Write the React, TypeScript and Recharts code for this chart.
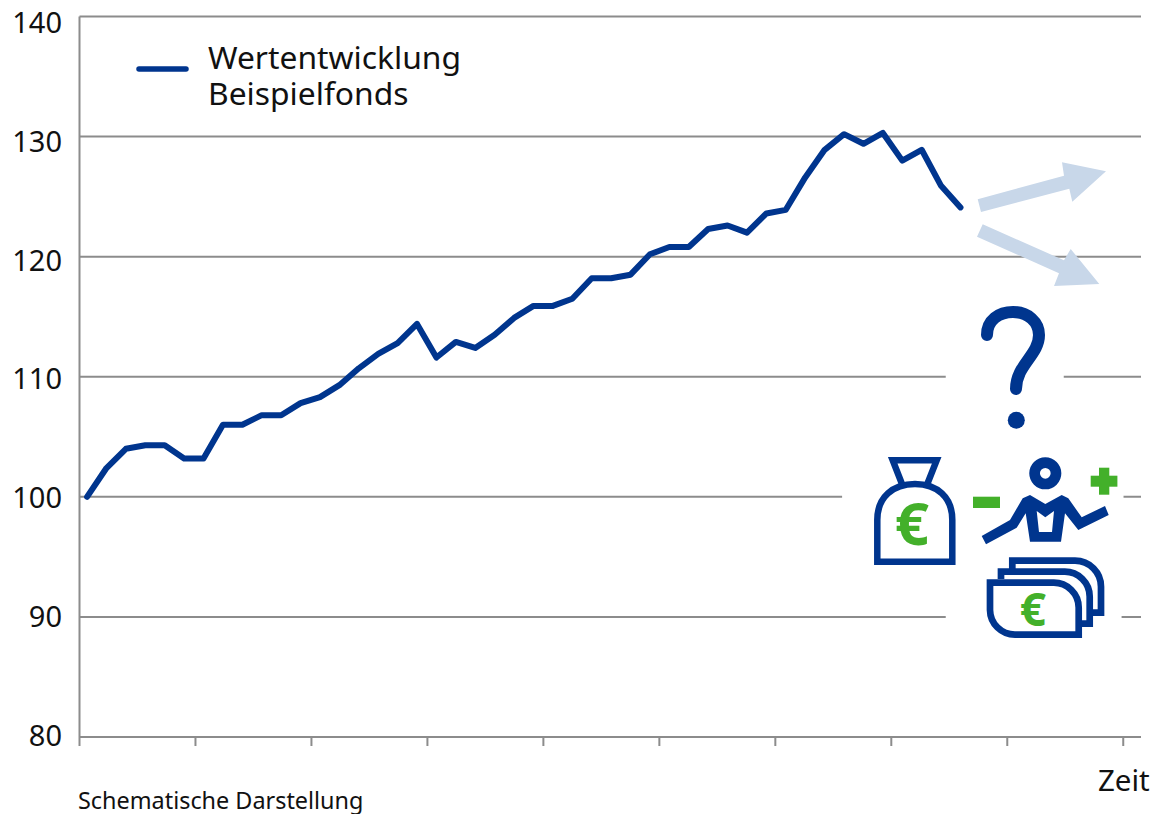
import { LineChart, Line, XAxis, YAxis, CartesianGrid, Legend, ReferenceArea } from 'recharts'

// ── Data ──────────────────────────────────────────────────────────────────────

const FUND_VALUES = [
  100, 102.4, 104, 104.3, 104.3, 103.2, 103.2, 106, 106, 106.8, 106.8, 107.8,
  108.3, 109.3, 110.7, 111.9, 112.8, 114.4, 111.6, 112.9, 112.4, 113.5, 114.9,
  115.9, 115.9, 116.5, 118.2, 118.2, 118.5, 120.2, 120.8, 120.8, 122.3, 122.6,
  122, 123.6, 123.9, 126.6, 128.9, 130.2, 129.4, 130.3, 128, 128.9, 125.9, 124.1,
]
const PERIODS = FUND_VALUES.map((_, i) => i)
const X_TICKS = [-0.39, 5.585, 11.56, 17.535, 23.51, 29.485, 35.46, 41.435, 47.41, 53.385]
const Y_TICKS = [80, 90, 100, 110, 120, 130, 140]
const LEGEND_LINES = ['Wertentwicklung', 'Beispielfonds']

// gaps in the grid behind the pictograms: [x from, x to, y]
const GRID_GAPS = [
  [44.24, 50.32, 110],
  [38.9, 53.4, 100],
  [44.24, 53.3, 90],
]

const chartData = PERIODS.map((period, i) => ({ period, value: FUND_VALUES[i] }))

// ── Style tokens ──────────────────────────────────────────────────────────────

const BLUE = '#00358E'
const GREEN = '#43B02A'
const ARROW = '#C8D7E9'
const GRID = '#8C8C8C'
const FONT = '"Noto Sans", sans-serif'

// ── Axis tick ─────────────────────────────────────────────────────────────────

function YTick({ y, payload }: any) {
  // labels in the original sit on a slightly tighter spacing than the grid
  const shift = ((payload.value - 80) * 8) / 60 - 2
  return (
    <text x={62} y={y + shift + 10.5} textAnchor="end" fontSize={29} fontFamily={FONT} fill="#111">
      {payload.value}
    </text>
  )
}

// ── Legend ────────────────────────────────────────────────────────────────────

function FundLegend() {
  return (
    <div style={{ position: 'relative', width: 340, height: 80, fontFamily: FONT, fontSize: 31.8, lineHeight: '36px', color: '#111' }}>
      <svg width={60} height={10} style={{ position: 'absolute', left: 0, top: 25 }}>
        <line x1={3} y1={5} x2={50} y2={5} stroke={BLUE} strokeWidth={5.5} strokeLinecap="round" />
      </svg>
      <div style={{ position: 'absolute', left: 72, top: 0 }}>
        {LEGEND_LINES.map((t) => (
          <div key={t}>{t}</div>
        ))}
      </div>
    </div>
  )
}

// ── Pictograms and loose labels, layered over the chart ───────────────────────

function Overlay() {
  return (
    <svg width={1158} height={814} style={{ position: 'absolute', left: 0, top: 0, pointerEvents: 'none' }}>
      <polygon points="977.7,199.3 1064,175.7 1062,162.3 1106,171.3 1072.3,201.7 1069.3,188.7 981,212" fill={ARROW} />
      <polygon points="982.7,224.3 1064,260.3 1070.7,249 1099.3,284 1054,286 1059,273.3 977,236.7" fill={ARROW} />

      <path
        d="M987 335 C987 320 999 312 1013 312 C1028 312 1039 322 1039 335 C1039 355 1016 365 1016 389"
        fill="none" stroke={BLUE} strokeWidth={12} strokeLinecap="round"
      />
      <circle cx={1016.3} cy={420.3} r={8.5} fill={BLUE} />

      {/* money bag */}
      <g fill="none" stroke={BLUE} strokeWidth={6.5}>
        <path d="M902 484 L892.7 460.3 H936.7 L927.3 484" />
        <path d="M877.3 561.7 V520 C877.3 497 893 484 915 484 C937 484 952.3 497 952.3 520 V561.7 Z" />
      </g>
      <text x={912} y={545} textAnchor="middle" fontSize={60} fontWeight={700} fontFamily={FONT} fill={GREEN}>€</text>

      {/* person */}
      <rect x={973} y={496.7} width={27} height={11.3} fill={GREEN} />
      <rect x={1090.7} y={475.7} width={26.7} height={11} fill={GREEN} />
      <rect x={1099} y={467.7} width={10.3} height={27} fill={GREEN} />
      <circle cx={1045.3} cy={473.3} r={10.7} fill="none" stroke={BLUE} strokeWidth={10.7} />
      <path
        fillRule="evenodd"
        fill={BLUE}
        d="M981.7 536 L986 544.3 L1016.7 527.7 L1025.7 513.3 L1030 541.7 H1061 L1065 513.3 L1078.3 530 L1108.7 515 L1105 506 L1081.7 517.3 L1068.3 498.3 L1061.7 495 L1045.3 504 L1030 495 L1022.7 498.3 L1010 520 Z M1036.7 511 L1045.3 517.3 L1054 511 L1052 532 H1039 Z"
      />

      {/* bank notes */}
      <g fill="none" stroke={BLUE} strokeWidth={6.7}>
        <path d="M1012.3 571 V560.7 H1075 A26 26 0 0 1 1101 587 V612.7 H1092" />
        <path d="M1001 579 V571.7 H1064 A25 25 0 0 1 1089.7 597 V623.7 H1080" />
        <path d="M990 582.7 H1053 A25 25 0 0 1 1078.7 608 V634.7 H1015 A25 25 0 0 1 990 610 Z" />
      </g>
      <text x={1033} y={626} textAnchor="middle" fontSize={46} fontWeight={700} fontFamily={FONT} fill={GREEN}>€</text>

      <text x={1098} y={791} fontSize={29.5} fontFamily={FONT} fill="#111">Zeit</text>
      <text x={78} y={808.5} fontSize={23.4} fontFamily={FONT} fill="#111">Schematische Darstellung</text>
    </svg>
  )
}

// ── Chart ─────────────────────────────────────────────────────────────────────

export default function App() {
  return (
    <div style={{ position: 'absolute', left: 0, top: 0, width: 1158, height: 814, background: '#fff' }}>
      <LineChart width={1158} height={814} data={chartData} margin={{ top: 16.5, right: 17, bottom: 0, left: 0 }}>
        <CartesianGrid horizontal vertical={false} stroke={GRID} strokeWidth={2} />
        <XAxis
          dataKey="period"
          type="number"
          domain={[-0.39, 54.3]}
          ticks={X_TICKS}
          tickFormatter={() => ''}
          height={77}
          stroke={GRID}
          strokeWidth={2}
          tickSize={9}
          interval={0}
          allowDataOverflow
        />
        <YAxis
          width={79.5}
          domain={[80, 140]}
          ticks={Y_TICKS}
          interval={0}
          tick={<YTick />}
          tickLine={false}
          stroke={GRID}
          strokeWidth={2}
        />
        {GRID_GAPS.map(([x1, x2, y]) => (
          <ReferenceArea key={y} x1={x1} x2={x2} y1={y - 0.5} y2={y + 0.5} fill="#fff" fillOpacity={1} stroke="none" />
        ))}
        <Legend
          layout="horizontal"
          verticalAlign="middle"
          content={<FundLegend />}
          wrapperStyle={{ position: 'absolute', left: 136, top: 39, width: 340, height: 80, bottom: 'auto' }}
        />
        <Line
          type="linear"
          dataKey="value"
          stroke={BLUE}
          strokeWidth={6}
          strokeLinecap="round"
          strokeLinejoin="round"
          dot={false}
          isAnimationActive={false}
        />
      </LineChart>
      <Overlay />
    </div>
  )
}
